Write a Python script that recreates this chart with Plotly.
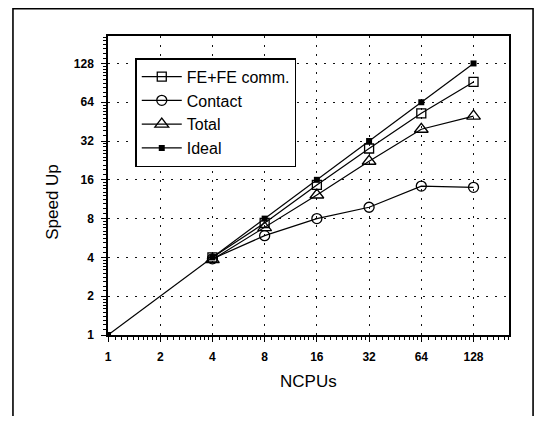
import plotly.graph_objects as go
import numpy as np

ncpus = [4, 8, 16, 32, 64, 128]
fe_comm = [4.0, 7.4, 14.6, 28.0, 52.5, 92.0]
contact = [3.9, 5.9, 8.0, 9.8, 14.3, 14.0]
total = [3.85, 6.8, 12.2, 22.3, 39.5, 50.0]
ideal_x = [1, 4, 8, 16, 32, 64, 128]
ideal_y = [1, 4, 8, 16, 32, 64, 128]
tick_vals = [1, 2, 4, 8, 16, 32, 64, 128]
tick_text = ["1", "2", "4", "8", "16", "32", "64", "128"]

minor_vals = []
for k in range(8):
    base = 2 ** k
    for j in range(1, 10):
        v = base * (1 + j / 10)
        if v < 205:
            minor_vals.append(v)

FONT = "Liberation Sans, Arial, sans-serif"
line = dict(color="black", width=1.2)
fig = go.Figure()
fig.add_trace(go.Scatter(x=ncpus, y=fe_comm, name="FE+FE comm.", mode="lines+markers",
                         line=line, marker=dict(symbol="square-open", size=9, color="black",
                                                line=dict(width=1.3))))
fig.add_trace(go.Scatter(x=ncpus, y=contact, name="Contact", mode="lines+markers",
                         line=line, marker=dict(symbol="circle-open", size=10, color="black",
                                                line=dict(width=1.3))))
fig.add_trace(go.Scatter(x=ncpus, y=total, name="Total", mode="lines+markers",
                         line=line, marker=dict(symbol="triangle-up-open", size=12, color="black",
                                                line=dict(width=1.3))))
fig.add_trace(go.Scatter(x=ideal_x, y=ideal_y, name="Ideal", mode="lines+markers",
                         line=line, marker=dict(symbol="square", size=6, color="black")))

axis_common = dict(
    type="log", showline=True, linecolor="black", linewidth=1.5, mirror=True,
    ticks="outside", ticklen=5, tickwidth=1.2, tickcolor="black",
    tickmode="array", tickvals=tick_vals, ticktext=tick_text,
    showgrid=True, gridcolor="#111", gridwidth=1, griddash="2px,7px",
    zeroline=False, automargin=False, ticklabelstandoff=5,
    tickfont=dict(family=FONT, size=12, color="black", weight="bold"),
    minor=dict(tickmode="array", tickvals=minor_vals, ticks="outside", ticklen=3,
               tickcolor="black", tickwidth=1, showgrid=False),
)

fig.update_layout(
    width=526, height=408,
    margin=dict(l=100, r=25, t=28, b=81, autoexpand=False),
    paper_bgcolor="white", plot_bgcolor="white",
    showlegend=True,
    legend=dict(x=0.068, y=0.926, xanchor="left", yanchor="top",
                bgcolor="white", bordercolor="black", borderwidth=1.5,
                font=dict(family=FONT, size=16, color="black"),
                tracegroupgap=0, itemwidth=40),
    xaxis=dict(axis_common, range=[0, np.log10(205)]),
    yaxis=dict(axis_common, range=[0, np.log10(209)]),
    annotations=[
        dict(text="NCPUs", xref="paper", yref="paper", x=0.5, y=-0.157,
             xanchor="center", yanchor="middle", showarrow=False,
             font=dict(family=FONT, size=17, color="black")),
        dict(text="Speed Up", xref="paper", yref="paper", x=-0.1375, y=0.445,
             xanchor="center", yanchor="middle", showarrow=False, textangle=-90,
             font=dict(family=FONT, size=17, color="black")),
    ],
)

fig.add_shape(type="rect", xref="paper", yref="paper",
              x0=-0.237, x1=1.06, y0=-0.31, y1=1.091,
              line=dict(color="black", width=1.6), fillcolor="rgba(0,0,0,0)")

fig.write_html("out.html")
